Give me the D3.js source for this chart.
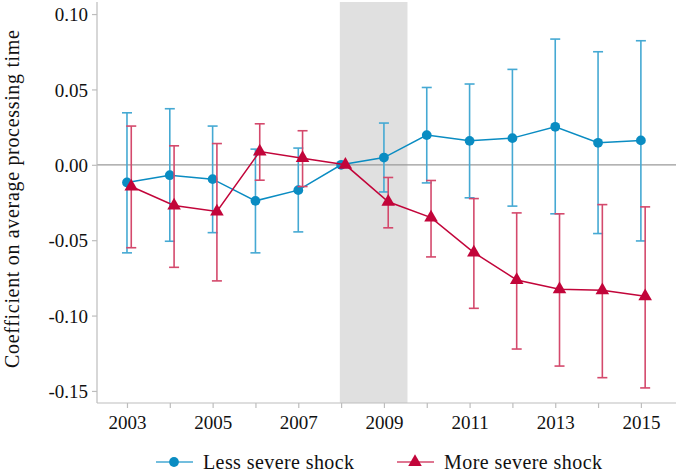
<!DOCTYPE html>
<html>
<head>
<meta charset="utf-8">
<script src="https://cdn.jsdelivr.net/npm/d3@7"></script>
<style>
  body { margin: 0; background: #fff; }
  text { font-family: "Liberation Serif", serif; fill: #111; }
</style>
</head>
<body>
<svg id="chart" width="678" height="474"></svg>
<script>
var years = [2003, 2004, 2005, 2006, 2007, 2008, 2009, 2010, 2011, 2012, 2013, 2014, 2015];

// less severe shock
var lessCoef = [-0.0117, -0.0069, -0.0095, -0.0239, -0.0168, 0, 0.0048, 0.0197, 0.0159, 0.0177, 0.0252, 0.0146, 0.0162];
var lessHi   = [0.0345, 0.0372, 0.0257, 0.0104, 0.0111, null, 0.0277, 0.0513, 0.0536, 0.0633, 0.0834, 0.0750, 0.0823];
var lessLo   = [-0.0584, -0.0507, -0.0450, -0.0584, -0.0445, null, -0.0180, -0.0120, -0.0219, -0.0274, -0.0325, -0.0456, -0.0505];

// more severe shock
var moreCoef = [-0.0144, -0.0270, -0.0310, 0.0088, 0.0044, 0, -0.0245, -0.0350, -0.0582, -0.0764, -0.0826, -0.0832, -0.0872];
var moreHi   = [0.0257, 0.0126, 0.0141, 0.0272, 0.0226, null, -0.0084, -0.0104, -0.0224, -0.0319, -0.0325, -0.0264, -0.0279];
var moreLo   = [-0.0550, -0.0680, -0.0770, -0.0102, -0.0144, null, -0.0418, -0.0611, -0.0952, -0.1222, -0.1335, -0.1412, -0.1480];

var yTicks = [0.10, 0.05, 0.00, -0.05, -0.10, -0.15];
var xTickLabels = [2003, 2005, 2007, 2009, 2011, 2013, 2015];
var shadeRange = [2007.97, 2009.55];
var legendLabels = ["Less severe shock", "More severe shock"];

var blue = "#0a8cc2", blueBar = "#45a9d3";
var red = "#c2053a", redBar = "#d4496c";

var svg = d3.select("#chart");
var pLeft = 97, pRight = 676, pTop = 2, pBottom = 403;

var x = d3.scaleLinear().domain([2002.3, 2015.82]).range([pLeft, pRight]);
var y = d3.scaleLinear().domain([-0.158, 0.108]).range([pBottom, pTop]);

// shaded period
svg.append("rect")
  .attr("x", x(shadeRange[0])).attr("y", pTop)
  .attr("width", x(shadeRange[1]) - x(shadeRange[0]))
  .attr("height", pBottom - pTop)
  .attr("fill", "#e0e0e0");

// zero line
svg.append("line")
  .attr("x1", pLeft).attr("x2", pRight)
  .attr("y1", y(0)).attr("y2", y(0))
  .attr("stroke", "#9a9a9a").attr("stroke-width", 1.2);

// axes
var yAxis = svg.append("g")
  .attr("transform", "translate(" + pLeft + ",0)")
  .call(d3.axisLeft(y).tickValues(yTicks).tickSize(5).tickPadding(4).tickFormat(d3.format(".2f")));
yAxis.select(".domain").attr("d", "M0," + pTop + "V" + pBottom);

var xAxis = svg.append("g")
  .attr("transform", "translate(0," + pBottom + ")")
  .call(d3.axisBottom(x).tickValues(years).tickSize(5).tickPadding(4)
    .tickFormat(function(d) { return xTickLabels.indexOf(d) >= 0 ? d : ""; }));
xAxis.select(".domain").attr("d", "M" + pLeft + ",0H" + pRight);

svg.selectAll(".domain, .tick line").attr("stroke", "#bdbdbd").attr("stroke-width", 1.2);
svg.selectAll(".tick text").style("font-family", "Liberation Serif").style("font-size", "19px").attr("fill", "#111");
xAxis.selectAll(".tick text").attr("dy", "0.9em");
yAxis.selectAll(".tick text").attr("dy", "0.35em").text(function(d) { return d3.format(".2f")(d).replace("−", "-"); });

// y title
svg.append("text")
  .attr("transform", "translate(19," + 199 + ") rotate(-90)")
  .attr("text-anchor", "middle")
  .attr("textLength", 338).attr("lengthAdjust", "spacing")
  .style("font-size", "20px")
  .text("Coefficient on average processing time");

function drawSeries(coef, hi, lo, offset, color, barColor, symbol, size) {
  var g = svg.append("g");
  var rows = years.map(function(yr, i) { return {yr: yr + offset, c: coef[i], hi: hi[i], lo: lo[i]}; });
  var bars = rows.filter(function(d) { return d.hi !== null; });

  g.selectAll(".bar").data(bars).enter().append("line")
    .attr("x1", function(d) { return x(d.yr); }).attr("x2", function(d) { return x(d.yr); })
    .attr("y1", function(d) { return y(d.hi); }).attr("y2", function(d) { return y(d.lo); })
    .attr("stroke", barColor).attr("stroke-width", 1.6);
  ["hi", "lo"].forEach(function(k) {
    g.selectAll(".cap" + k).data(bars).enter().append("line")
      .attr("x1", function(d) { return x(d.yr) - 5; }).attr("x2", function(d) { return x(d.yr) + 5; })
      .attr("y1", function(d) { return y(d[k]); }).attr("y2", function(d) { return y(d[k]); })
      .attr("stroke", barColor).attr("stroke-width", 1.6);
  });

  g.append("path").datum(rows)
    .attr("d", d3.line().x(function(d) { return x(d.yr); }).y(function(d) { return y(d.c); }))
    .attr("fill", "none").attr("stroke", color).attr("stroke-width", 1.5);

  g.selectAll(".pt").data(rows).enter().append("path")
    .attr("transform", function(d) { return "translate(" + x(d.yr) + "," + y(d.c) + ")"; })
    .attr("d", d3.symbol().type(symbol).size(size))
    .attr("fill", color);
}

drawSeries(lessCoef, lessHi, lessLo, 0, blue, blueBar, d3.symbolCircle, 75);
drawSeries(moreCoef, moreHi, moreLo, 0.1, red, redBar, d3.symbolTriangle, 80);

// legend
var legend = [
  {label: legendLabels[0], x0: 156, w: 151, color: blue, line: blueBar, sym: d3.symbolCircle, size: 75},
  {label: legendLabels[1], x0: 397, w: 158, color: red, line: redBar, sym: d3.symbolTriangle, size: 80}
];
var ly = 462;
legend.forEach(function(d) {
  svg.append("line").attr("x1", d.x0).attr("x2", d.x0 + 37).attr("y1", ly).attr("y2", ly)
    .attr("stroke", d.line).attr("stroke-width", 1.6);
  svg.append("path").attr("transform", "translate(" + (d.x0 + 18) + "," + ly + ")")
    .attr("d", d3.symbol().type(d.sym).size(d.size)).attr("fill", d.color);
  svg.append("text").attr("x", d.x0 + 47).attr("y", ly).attr("dy", "0.35em")
    .attr("textLength", d.w).attr("lengthAdjust", "spacing")
    .style("font-size", "20px").text(d.label);
});
</script>
</body>
</html>
